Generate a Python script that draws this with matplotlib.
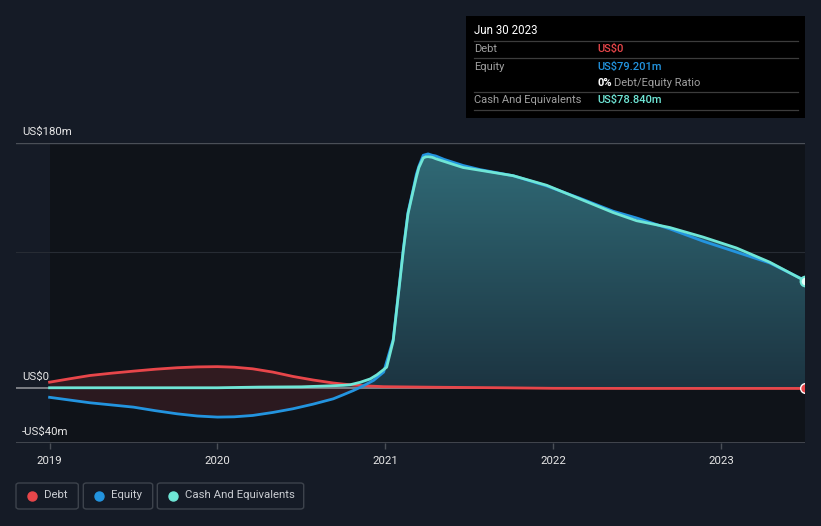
#!/usr/bin/env python3
"""Debt / equity / cash history chart, dark theme."""
import matplotlib as mpl
mpl.use('Agg')
import matplotlib.pyplot as plt
import numpy as np
from matplotlib.patches import FancyBboxPatch, Rectangle, PathPatch
from matplotlib.lines import Line2D
from matplotlib.transforms import offset_copy

plt.rcParams['font.family'] = ['Roboto', 'DejaVu Sans']

# values in US$m
debt_x = [2019.0, 2019.12, 2019.24, 2019.37, 2019.5, 2019.63, 2019.76, 2019.88,
          2020.0, 2020.1, 2020.21, 2020.33, 2020.45, 2020.57, 2020.69, 2020.75,
          2020.81, 2020.9, 2020.99, 2021.3, 2021.7, 2022.0, 2022.5, 2023.0, 2023.5]
debt_y = [4.6, 7.1, 9.5, 11.2, 12.7, 14.1, 15.2, 15.8,
          16.0, 15.6, 14.4, 12.0, 8.8, 6.2, 4.0, 3.2,
          2.5, 1.8, 1.3, 0.9, 0.5, 0.1, 0.0, 0.0, 0.0]

equity_x = [2019.0, 2019.12, 2019.24, 2019.37, 2019.5, 2019.63, 2019.76, 2019.88,
            2020.0, 2020.1, 2020.21, 2020.33, 2020.45, 2020.57, 2020.69, 2020.75,
            2020.81, 2020.87, 2020.93, 2020.99, 2021.047, 2021.107, 2021.135,
            2021.166, 2021.185, 2021.2, 2021.226, 2021.24, 2021.255, 2021.28,
            2021.3, 2021.35, 2021.4, 2021.464, 2021.564, 2021.762,
            2021.961, 2022.159, 2022.357, 2022.497, 2022.695, 2022.893,
            2023.092, 2023.29, 2023.5]
equity_y = [-6.5, -8.5, -10.5, -12.1, -13.7, -16.3, -18.6, -20.2,
            -21.0, -20.8, -19.8, -17.6, -14.9, -11.5, -7.6, -4.6,
            -1.5, 2.0, 5.9, 12.0, 36.0, 102.0, 129.0,
            146.0, 157.0, 163.0, 171.0, 171.5, 172.0, 171.0,
            170.5, 168.0, 166.0, 163.5, 160.5, 156.0,
            148.5, 139.5, 130.0, 125.0, 117.0, 108.0,
            100.0, 92.0, 79.201]

cash_x = [2019.0, 2019.5, 2020.0, 2020.25, 2020.5, 2020.69, 2020.75, 2020.79,
          2020.85, 2020.91, 2020.95, 2021.008, 2021.047, 2021.107, 2021.135,
          2021.166, 2021.185, 2021.2, 2021.226, 2021.24, 2021.255, 2021.28,
          2021.3, 2021.35, 2021.4, 2021.464, 2021.564, 2021.762, 2021.961, 2022.159,
          2022.357, 2022.497, 2022.695, 2022.893, 2023.092, 2023.29, 2023.5]
cash_y = [0.5, 0.5, 0.5, 1.0, 1.2, 2.0, 2.3, 2.7,
          4.5, 7.0, 10.0, 15.6, 35.0, 101.0, 128.0,
          145.0, 155.0, 162.0, 169.0, 169.8, 170.0, 169.5,
          168.5, 166.5, 164.5, 162.0, 160.0, 156.0, 149.0, 139.0,
          129.0, 123.0, 118.0, 111.0, 103.0, 92.6, 78.84]

year_ticks = [2019, 2020, 2021, 2022, 2023]
y_labels = {180: 'US$180m', 0: 'US$0', -40: '-US$40m'}

RED = '#e8464a'
BLUE = '#2394df'
CYAN = '#6fe6d6'
BG = '#151b26'
PLOT_BG = '#0f1319'

W, H = 821, 526
fig = plt.figure(figsize=(W / 100, H / 100), dpi=100, facecolor=BG)


def fx(px):
	return px / W


def fy(py):
	return 1 - py / H


ax = fig.add_axes([fx(16), fy(443), 789 / W, 300 / H])
ax.set_facecolor(BG)
for s in ax.spines.values():
	s.set_visible(False)
ax.set_yticks([])
ax.set_xticks(year_ticks)
ax.set_xticklabels([str(t) for t in year_ticks])
ax.tick_params(axis='x', colors='#4a4f57', length=4, width=1, pad=5, labelsize=8.2,
	labelcolor='#e6e6e6')

ax.axvspan(2019.0, 2023.5, color=PLOT_BG, zorder=0, lw=0)
ax.axhline(180, color='#4a4f57', lw=1, zorder=1)
ax.axhline(100, color='#272c34', lw=0.8, zorder=1)
ax.axhline(-40, color='#4a4f57', lw=1.2, zorder=1)

# fills
ax.fill_between(debt_x, debt_y, 0, color=RED, alpha=0.16, lw=0, zorder=2)
eq = np.array(equity_y)
ax.fill_between(equity_x, np.minimum(eq, 0), 0, color=RED, alpha=0.13, lw=0, zorder=2)

poly = ax.fill_between(cash_x, cash_y, 0, color='none', lw=0, zorder=2)
grad = np.linspace(1, 0, 256).reshape(-1, 1)
cmap = mpl.colors.LinearSegmentedColormap.from_list('g', ['#1c3441', '#306a76'])
img = ax.imshow(grad, aspect='auto', cmap=cmap, extent=[2019.0, 2023.5, 0, 172],
	origin='upper', zorder=2)
img.set_clip_path(PathPatch(poly.get_paths()[0], transform=ax.transData))
ax.set_xlim(2018.80, 2023.50)
ax.set_ylim(-40, 180)

ax.axhline(0, color='#8c8f94', lw=1.2, zorder=3)

ax.plot(debt_x, debt_y, color=RED, lw=2.0, zorder=4, solid_joinstyle='round')
ax.plot(equity_x, equity_y, color=BLUE, lw=2.0, zorder=5, solid_joinstyle='round')
ax.plot(cash_x, cash_y, color=CYAN, lw=2.0, zorder=6, solid_joinstyle='round')

ax.plot([debt_x[-1]], [debt_y[-1]], 'o', ms=7, mfc=RED, mec='white', mew=1,
	zorder=7, clip_on=False)
ax.plot([cash_x[-1]], [cash_y[-1]], 'o', ms=7, mfc='#e8fbf8', mec=CYAN, mew=1.5,
	zorder=7, clip_on=False)
# clip markers at the right edge like the reference
ax.add_patch(Rectangle((2023.5, -60), 1, 300, color=BG, zorder=8, clip_on=False, lw=0))

for val, lab in y_labels.items():
	tr = offset_copy(ax.transData, fig=fig, x=0, y=4.5, units='points')
	ax.text(2018.836, val, lab, transform=tr, ha='left', va='bottom',
		color='#e6e6e6', fontsize=8.2, zorder=9)

# tooltip box
fig.patches.append(Rectangle((fx(466), fy(118)), 339 / W, 102 / H, transform=fig.transFigure,
	facecolor='black', edgecolor='none', zorder=10))
for py in [41, 58.3, 92.3, 110]:
	fig.lines.append(Line2D([fx(474), fx(798)], [fy(py), fy(py)], transform=fig.transFigure,
		color='#3c3c3c', lw=0.9, zorder=11))
fig.text(fx(474), fy(30.7), 'Jun 30 2023', color='white', fontsize=8.3, va='center', zorder=12)
rows = [
	(49, 'Debt', 'US$0', RED),
	(66.7, 'Equity', 'US$79.201m', BLUE),
	(100, 'Cash And Equivalents', 'US$78.840m', CYAN),
]
for py, lab, val, col in rows:
	fig.text(fx(474), fy(py), lab, color='#a0a0a0', fontsize=8, va='center', zorder=12)
	fig.text(fx(597), fy(py), val, color=col, fontsize=8, va='center', zorder=12,
		fontweight='medium')
fig.text(fx(597), fy(83.3), '0%', color='white', fontsize=8, va='center', zorder=12,
	fontweight='bold')
fig.text(fx(614), fy(83.3), 'Debt/Equity Ratio', color='#a0a0a0', fontsize=8,
	va='center', zorder=12)

# legend
legend = [
	(16, 78.3, 32, 44.3, 'Debt', RED),
	(83.3, 152.7, 98.7, 111, 'Equity', BLUE),
	(157.3, 303.7, 173.3, 185.3, 'Cash And Equivalents', CYAN),
]
for x0, x1, cx, tx, lab, col in legend:
	fig.patches.append(FancyBboxPatch((fx(x0), fy(509)), (x1 - x0) / W, 26 / H,
		boxstyle='round,pad=0,rounding_size=0.004', transform=fig.transFigure,
		facecolor='none', edgecolor='#3d434c', lw=1))
	fig.lines.append(Line2D([fx(cx)], [fy(495.5)], marker='o', ms=6.5, color=col,
		transform=fig.transFigure, lw=0))
	fig.text(fx(tx), fy(495.5), lab, color='#c9ccd1', fontsize=8.2, va='center')

fig.savefig('out.png', dpi=100, facecolor=BG)
